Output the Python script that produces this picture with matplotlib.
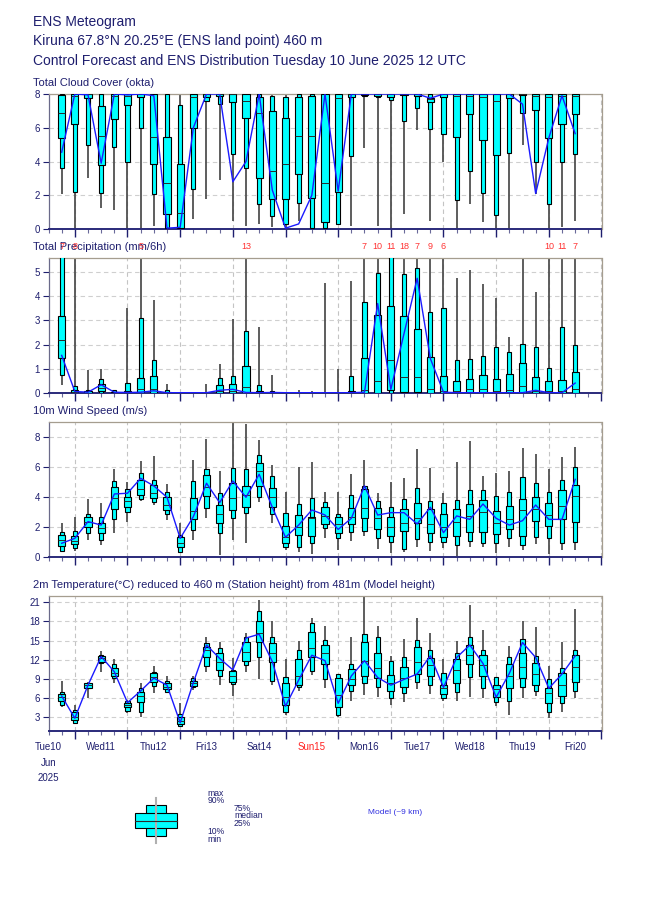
import numpy as np
import matplotlib
matplotlib.use('Agg')
import matplotlib.pyplot as plt
from matplotlib.transforms import blended_transform_factory
from matplotlib.patches import Rectangle

plt.rcParams['font.family'] = ['Liberation Sans', 'DejaVu Sans']

NAVY = '#1e1e6e'
CYAN = '#00ffff'
CTRL = '#1a1aff'

# forecast steps (hours after 10 June 12 UTC)
hours = np.arange(6, 241, 6)
day_labels = ['Tue10', 'Wed11', 'Thu12', 'Fri13', 'Sat14', 'Sun15',
              'Mon16', 'Tue17', 'Wed18', 'Thu19', 'Fri20']

# Total cloud cover (okta)
cc_min = [2.1, 0, 3.0, 1.25, 1.1, 0, 0, 0.2, 0, 0, 0.6, 1.75, 2.9, 0.45, 0.2, 0.3, 0.1, 0, 0.5, 0,
          0, 0.25, 0.2, 4.8, 0.2, 0, 0.9, 5.85, 0.5, 4.0, 0, 1.5, 0.4, 0, 0, 4.95, 2.1, 0, 0.1, 0.5]
cc_p10 = [3.6, 2.2, 5.0, 2.15, 4.85, 3.95, 6.0, 2.1, 0.05, 0, 2.4, 7.6, 7.4, 4.45, 3.6, 1.5, 0.75, 0.3, 1.55, 0.05,
          0.05, 0.3, 4.3, 7.9, 7.8, 7.65, 6.4, 7.2, 5.95, 5.65, 1.7, 3.45, 2.15, 0.85, 4.5, 6.85, 3.95, 1.5, 4.0, 4.45]
cc_p25 = [5.4, 6.2, 7.75, 3.8, 6.5, 7.35, 7.85, 3.85, 0.9, 0.05, 6.0, 7.8, 7.9, 7.55, 6.6, 3.05, 1.8, 1.8, 3.25, 1.85,
          0.4, 2.2, 7.8, 7.95, 7.9, 7.85, 7.95, 7.9, 7.55, 7.8, 5.45, 6.8, 5.25, 4.4, 7.75, 7.95, 7.05, 5.4, 6.25, 6.8]
cc_med = [6.85, 7.9, 8, 5.5, 7.9, 7.9, 8, 5.45, 2.7, 0.95, 7.8, 8, 8, 8, 7.6, 6.85, 3.45, 3.85, 5.5, 5.5,
          2.75, 7.75, 8, 8, 8, 8, 8, 8, 7.7, 8, 7.9, 7.9, 7.85, 7.6, 8, 8, 7.9, 7.85, 7.9, 7.9]
cc_p75 = [7.95, 8, 8, 7.3, 8, 8, 8, 8, 5.45, 3.85, 8, 8, 8, 8, 8, 7.8, 7.0, 6.6, 7.8, 7.9,
          8, 8, 8, 8, 8, 8, 8, 8, 7.75, 8, 8, 8, 8, 8, 8, 8, 8, 8, 8, 8]
cc_p90 = [8, 8, 8, 8, 8, 8, 8, 8, 8, 7.35, 8, 8, 8, 8, 8, 8, 7.9, 7.85, 8, 8,
          8, 8, 8, 8, 8, 8, 8, 8, 8, 8, 8, 8, 8, 8, 8, 8, 8, 8, 8, 8]
cc_max = [8] * 40
cc_ctrl = [4.55, 8, 7.95, 3.9, 8, 7.95, 8, 7.9, 0.05, 0.1, 6.0, 8, 8, 2.8, 4.0, 8, 2.3, 0.05, 0.3, 2.0,
           8, 2.25, 8, 8, 8, 8, 8, 8, 7.75, 8, 8, 8, 8, 8, 8, 7.4, 2.1, 5.4, 7.9, 5.65]

# Total precipitation (mm/6h)
tp_min = [0.3] + [0] * 39
tp_p10 = [0.75] + [0] * 39
tp_p25 = [1.42, 0, 0, 0.08, 0, 0, 0, 0, 0, 0, 0, 0, 0, 0, 0, 0, 0, 0, 0, 0,
          0, 0, 0, 0, 0, 0.1, 0.02, 0.02, 0, 0, 0, 0, 0, 0, 0, 0, 0, 0, 0, 0]
tp_med = [2.18, 0.02, 0, 0.2, 0, 0.01, 0.17, 0.15, 0, 0, 0, 0, 0.05, 0.05, 0.23, 0, 0, 0, 0, 0,
          0, 0, 0, 0.1, 0.49, 1.35, 0.65, 0.65, 0.14, 0.05, 0.05, 0.14, 0.14, 0.05, 0.1, 0.28, 0.05, 0.05, 0.05, 0.17]
tp_p75 = [3.18, 0.1, 0.05, 0.37, 0.03, 0.08, 0.6, 0.68, 0.02, 0, 0, 0, 0.33, 0.37, 1.1, 0.05, 0.01, 0, 0, 0,
          0, 0, 0.05, 1.42, 3.22, 3.6, 3.18, 2.64, 1.49, 0.69, 0.49, 0.56, 0.72, 0.58, 0.79, 1.25, 0.65, 0.47, 0.54, 0.86]
tp_p90 = [6.2, 0.28, 0.12, 0.58, 0.1, 0.42, 3.1, 1.35, 0.1, 0, 0, 0, 0.62, 0.68, 2.58, 0.33, 0.05, 0, 0, 0,
          0, 0, 0.68, 3.78, 4.98, 5.7, 4.92, 5.17, 3.36, 3.5, 1.35, 1.39, 1.51, 1.9, 1.69, 2.04, 1.9, 1.03, 2.74, 2.0]
tp_max = [7.6, 8.4, 0.93, 1.0, 0.13, 3.5, 5.9, 3.85, 0.38, 0, 0, 0.35, 1.2, 3.08, 13.2, 2.73, 0.72, 0, 0.1, 0.05,
          4.55, 0.97, 4.64, 7.3, 10.4, 11.2, 18.1, 7.4, 9.2, 6.3, 4.75, 5.1, 4.5, 3.94, 2.32, 5.55, 4.17, 10.5, 11.3, 7.2]
tp_ctrl = [1.55, 0.05, 0.02, 0.33, 0.02, 0.01, 0.02, 0.08, 0, 0, 0, 0, 0.1, 0.14, 0.01, 0, 0.01, 0, 0, 0,
           0, 0, 0, 0.02, 3.7, 0.14, 2.45, 4.75, 1.42, 0.02, 0, 0, 0, 0, 0, 0, 0.1, 0, 0, 0.4]

# 10m wind speed (m/s)
ws_min = [0.33, 0.4, 1.12, 0.78, 1.56, 2.35, 3.75, 3.46, 2.46, 0.22, 1.12, 2.57, 0.11, 1.12, 0.94, 3.69, 2.23, 0.45, 0.33, 0.18,
          1.23, 0.45, 1.07, 1.39, 0.49, 0.22, 0.33, 0.67, 0.4, 0.56, 0.04, 0.63, 0.63, 0.22, 0.67, 0.45, 0.85, 0.18, 0.45, 0.45]
ws_p10 = [0.4, 0.56, 1.56, 1.12, 2.52, 3.02, 3.85, 3.69, 2.86, 0.33, 1.79, 3.24, 1.56, 2.57, 2.9, 4.02, 2.86, 0.63, 0.67, 0.9,
          1.9, 1.23, 1.68, 1.74, 1.23, 0.96, 0.49, 1.16, 1.0, 1.0, 0.78, 1.07, 0.89, 0.89, 1.23, 0.78, 1.34, 1.23, 0.89, 1.0]
ws_p25 = [0.72, 0.83, 1.97, 1.61, 3.17, 3.35, 4.13, 3.91, 3.13, 0.63, 2.5, 4.07, 2.28, 3.13, 3.35, 4.74, 3.31, 0.94, 1.45, 1.39,
          2.17, 1.56, 2.17, 2.57, 1.85, 1.39, 1.74, 2.23, 1.56, 1.3, 1.39, 1.68, 1.68, 1.5, 1.83, 1.39, 2.41, 2.06, 2.5, 2.35]
ws_med = [1.12, 1.05, 2.35, 1.9, 3.9, 3.73, 4.51, 4.25, 3.46, 0.9, 3.08, 4.65, 2.86, 3.91, 4.13, 5.77, 3.98, 1.3, 1.97, 2.57,
          2.7, 2.2, 2.68, 3.24, 2.6, 2.01, 2.28, 2.57, 2.19, 2.01, 2.35, 2.7, 3.02, 2.28, 2.5, 3.13, 3.2, 2.79, 3.4, 4.07]
ws_p75 = [1.45, 1.39, 2.64, 2.23, 4.65, 4.02, 5.14, 4.8, 3.98, 1.34, 3.91, 5.47, 3.46, 4.96, 4.74, 6.26, 4.58, 2.06, 2.79, 2.68,
          3.35, 2.68, 3.28, 4.51, 3.24, 2.68, 3.17, 3.62, 3.17, 2.84, 3.17, 3.53, 3.8, 3.08, 3.42, 3.84, 3.98, 3.62, 4.47, 4.8]
ws_p90 = [1.68, 1.74, 2.86, 2.68, 5.1, 4.56, 5.63, 5.14, 4.36, 1.45, 5.1, 5.85, 4.25, 5.92, 5.85, 6.82, 5.41, 2.95, 3.51, 3.91,
          3.69, 2.86, 4.13, 4.74, 3.75, 3.31, 3.84, 4.58, 3.75, 3.58, 3.8, 4.47, 4.47, 4.07, 4.36, 5.32, 4.96, 4.36, 5.14, 5.99]
ws_max = [2.23, 2.64, 3.84, 3.58, 5.85, 5.03, 6.44, 6.75, 4.87, 2.23, 6.48, 7.87, 5.77, 9.0, 8.9, 7.82, 6.15, 4.36, 6.03, 6.37,
          4.36, 4.36, 5.54, 6.48, 4.29, 5.03, 5.25, 7.2, 5.92, 4.25, 6.37, 7.78, 5.41, 5.63, 5.77, 7.26, 6.86, 5.85, 6.7, 7.33]
ws_ctrl = [0.9, 1.23, 2.35, 2.12, 4.2, 4.25, 5.25, 4.74, 3.98, 1.23, 2.68, 4.92, 3.62, 5.07, 3.98, 5.52, 3.3, 1.3, 2.12, 3.13,
           2.79, 1.83, 2.57, 4.74, 2.79, 2.95, 2.95, 2.19, 3.31, 1.61, 2.73, 2.5, 3.53, 2.57, 2.12, 2.41, 3.46, 2.5, 2.5, 5.18]

# 2m temperature (C)
t2_min = [4.6, 1.9, 5.95, 10.1, 8.4, 3.7, 3.05, 6.7, 6.7, 1.4, 7.25, 10.0, 8.0, 6.3, 10.1, 8.9, 8.0, 3.3, 7.15, 9.6,
          7.5, 2.95, 5.55, 6.45, 6.2, 4.9, 5.4, 7.35, 6.6, 5.55, 5.55, 6.1, 5.95, 4.7, 3.3, 5.95, 6.3, 2.8, 3.85, 5.95]
t2_p10 = [4.9, 2.0, 7.5, 11.5, 9.1, 4.0, 3.85, 7.85, 7.0, 1.6, 7.65, 11.0, 9.45, 8.2, 11.15, 12.35, 8.7, 3.85, 7.65, 10.3,
          8.9, 3.3, 7.15, 8.3, 7.65, 5.95, 6.8, 8.55, 8.0, 5.95, 7.0, 9.25, 7.5, 5.4, 5.55, 7.65, 7.15, 3.85, 5.25, 7.15]
t2_p25 = [5.5, 2.5, 7.6, 11.7, 9.45, 4.5, 5.4, 8.55, 7.35, 1.9, 7.85, 12.4, 10.4, 8.55, 11.85, 14.7, 11.7, 4.9, 8.0, 12.45,
          11.3, 4.5, 8.0, 9.45, 9.1, 7.15, 7.75, 9.75, 9.45, 6.6, 8.4, 11.3, 9.45, 6.1, 7.5, 9.1, 8.0, 5.25, 6.3, 8.55]
t2_med = [6.1, 3.05, 8.0, 12.2, 9.95, 4.9, 6.35, 9.3, 7.75, 2.4, 8.4, 13.6, 11.7, 9.45, 13.25, 16.25, 13.1, 6.1, 9.45, 13.8,
          13.0, 6.45, 8.9, 11.85, 10.65, 8.3, 9.1, 11.7, 11.15, 7.5, 10.4, 12.7, 11.15, 7.35, 9.45, 10.9, 9.75, 6.7, 8.0, 10.9]
t2_p75 = [6.6, 3.85, 8.3, 12.6, 10.65, 5.25, 7.0, 9.85, 8.3, 3.05, 8.7, 13.95, 13.0, 10.3, 14.85, 18.1, 14.55, 8.3, 12.05, 16.4,
          14.3, 9.1, 10.5, 14.85, 13.0, 9.6, 10.9, 14.05, 12.2, 8.0, 12.05, 14.3, 12.7, 8.0, 11.3, 13.0, 11.55, 7.5, 9.85, 12.7]
t2_p90 = [7.0, 4.1, 8.4, 12.7, 11.3, 5.5, 7.5, 10.1, 8.7, 3.5, 9.1, 14.55, 13.8, 10.4, 15.6, 19.7, 15.5, 9.35, 13.6, 17.8,
          15.1, 9.75, 11.3, 16.0, 15.6, 11.85, 12.35, 15.1, 13.5, 9.85, 13.0, 15.6, 13.6, 9.25, 12.35, 15.2, 12.6, 8.9, 10.65, 13.6]
t2_max = [8.65, 4.9, 8.55, 13.4, 12.05, 5.65, 8.4, 11.0, 9.45, 5.25, 9.45, 15.6, 14.7, 12.2, 16.25, 21.3, 18.0, 12.05, 15.0, 18.5,
          17.3, 9.75, 15.5, 22.0, 17.3, 12.6, 15.2, 18.5, 16.15, 12.05, 15.0, 20.6, 16.65, 9.35, 14.15, 18.0, 17.1, 11.0, 14.85, 19.9]
t2_ctrl = [6.3, 2.8, 8.0, 12.5, 10.1, 5.25, 7.1, 9.1, 8.0, 2.1, 8.4, 14.3, 12.2, 10.4, 15.4, 16.0, 11.7, 4.7, 8.8, 12.7,
           11.85, 5.15, 9.45, 11.85, 9.2, 8.0, 8.9, 9.75, 12.6, 7.65, 12.35, 14.3, 11.4, 6.1, 9.85, 14.7, 12.35, 7.5, 9.75, 12.6]

W = 650
H = 916
fig = plt.figure(figsize=(W / 100, H / 100), dpi=100)

# overlay in pixel coordinates for header, legend and labels
over = fig.add_axes([0, 0, 1, 1], zorder=-1)
over.set_xlim(0, W)
over.set_ylim(H, 0)
over.axis('off')


def panel(top, bottom, ylim, yticks, title):
    ax = fig.add_axes([48.5 / W, 1 - bottom / H, 553 / W, (bottom - top) / H])
    ax.set_xlim(0, 252)
    ax.set_ylim(*ylim)
    ax.set_yticks(yticks)
    ax.set_xticks(np.arange(12, 253, 24))
    ax.set_xticks(np.arange(0, 253, 6), minor=True)
    ax.set_xticklabels([])
    ax.tick_params(axis='x', which='major', length=6, width=1, color=NAVY)
    ax.tick_params(axis='x', which='minor', length=3, width=0.8, color='#6a6a9a')
    ax.tick_params(axis='y', length=4, width=0.8, color=NAVY, labelcolor=NAVY, labelsize=7, pad=2)
    ax.grid(axis='y', color='#cfcfcf', ls=(0, (4, 3)), lw=0.8)
    ax.grid(axis='x', which='major', color='#c4c4c4', ls=(0, (4, 3)), lw=0.8)
    ax.set_axisbelow(True)
    for s in ['top', 'right']:
        ax.spines[s].set_color('#a59d8f')
        ax.spines[s].set_linewidth(0.9)
    ax.spines['left'].set_color('#6a6a8a')
    ax.spines['left'].set_linewidth(0.9)
    ax.spines['bottom'].set_color('#2a2a7a')
    ax.spines['bottom'].set_linewidth(1.4)
    over.text(33, top - 8, title, fontsize=8, color=NAVY, va='baseline', ha='left')
    return ax


def boxes(ax, mn, p10, p25, med, p75, p90, mx, ctrl):
    mn, p10, p25, med, p75, p90, mx = map(np.asarray, (mn, p10, p25, med, p75, p90, mx))
    ax.vlines(hours, mn, mx, color='#505050', lw=1.3, zorder=2)
    ax.bar(hours, p90 - p10, bottom=p10, width=1.9, color=CYAN, edgecolor='black', lw=0.8, zorder=3)
    ax.bar(hours, p75 - p25, bottom=p25, width=3.3, color=CYAN, edgecolor='black', lw=0.8, zorder=4)
    ax.hlines(med, hours - 1.65, hours + 1.65, color='#2a2a2a', lw=0.7, zorder=5)
    ax.plot(hours, ctrl, color=CTRL, lw=1.0, zorder=6)


# header
over.text(33, 26, 'ENS Meteogram', fontsize=10, color=NAVY)
over.text(33, 45.5, 'Kiruna 67.8°N 20.25°E (ENS land point) 460 m', fontsize=10, color=NAVY)
over.text(33, 65, 'Control Forecast and ENS Distribution Tuesday 10 June 2025 12 UTC', fontsize=10, color=NAVY)

ax1 = panel(94, 229, (0, 8), [0, 2, 4, 6, 8], 'Total Cloud Cover (okta)')
boxes(ax1, cc_min, cc_p10, cc_p25, cc_med, cc_p75, cc_p90, cc_max, cc_ctrl)

ax2 = panel(258.3, 392.7, (0, 5.58), [0, 1, 2, 3, 4, 5], 'Total Precipitation (mm/6h)')
boxes(ax2, tp_min, tp_p10, tp_p25, tp_med, tp_p75, tp_p90, tp_max, tp_ctrl)
tr2 = blended_transform_factory(ax2.transData, over.transData)
for h, m in zip(hours, tp_max):
    if m > 5.58:
        ax2.text(h, 249, str(int(m)), transform=tr2, ha='center', va='baseline',
                 fontsize=6.5, color='#ff3333', clip_on=False)

ax3 = panel(422.3, 556.7, (0, 9), [0, 2, 4, 6, 8], '10m Wind Speed (m/s)')
boxes(ax3, ws_min, ws_p10, ws_p25, ws_med, ws_p75, ws_p90, ws_max, ws_ctrl)

ax4 = panel(595.7, 731, (0.8, 22.05), [3, 6, 9, 12, 15, 18, 21],
            '2m Temperature(°C) reduced to 460 m (Station height) from 481m (Model height)')
boxes(ax4, t2_min, t2_p10, t2_p25, t2_med, t2_p75, t2_p90, t2_max, t2_ctrl)

# date labels under the last panel (centred on 12 UTC)
tr4 = blended_transform_factory(ax4.transData, over.transData)
for i, lab in enumerate(day_labels):
    col = '#ff2020' if lab.startswith('Sun') else NAVY
    ax4.text(i * 24, 750, lab, transform=tr4, ha='center', va='baseline',
             fontsize=7, color=col, clip_on=False)
ax4.text(0, 766, 'Jun', transform=tr4, ha='center', va='baseline', fontsize=7, color=NAVY, clip_on=False)
ax4.text(0, 781, '2025', transform=tr4, ha='center', va='baseline', fontsize=7, color=NAVY, clip_on=False)

# legend glyph
over.plot([155.7, 155.7], [798, 843], color='#b0b0b0', lw=1.5)
over.add_patch(Rectangle((145.7, 805), 20.3, 31, facecolor=CYAN, edgecolor='black', lw=0.8))
over.add_patch(Rectangle((135, 813), 41.7, 15, facecolor=CYAN, edgecolor='black', lw=0.8))
over.plot([135, 176.7], [820.7, 820.7], color='#2a2a2a', lw=0.8)
for txt, x, y in [('max', 207.7, 795.5), ('90%', 207.7, 803), ('75%', 234, 811),
                  ('median', 234, 818.5), ('25%', 234, 826), ('10%', 207.7, 834.5), ('min', 207.7, 842)]:
    over.text(x, y, txt, fontsize=6.2, color=NAVY, va='baseline')
over.text(368, 814.5, 'Model (~9 km)', fontsize=6, color='#3030e0', va='baseline')

fig.savefig('out.png', dpi=100)
